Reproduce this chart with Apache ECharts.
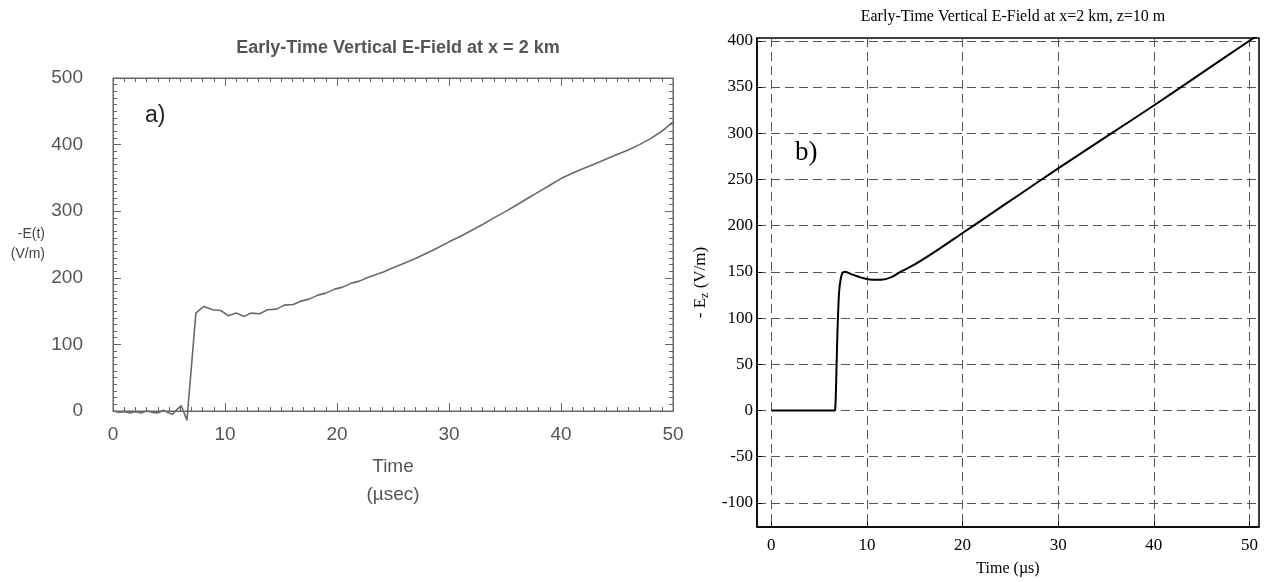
<!DOCTYPE html>
<html>
<head>
<meta charset="utf-8">
<script src="https://cdn.jsdelivr.net/npm/echarts@6/dist/echarts.min.js"></script>
<style>
  html, body { margin: 0; padding: 0; background: #fff; }
  #main { width: 1269px; height: 582px; }
</style>
</head>
<body>
<div id="main"></div>
<script>
// panel a) - computed field, noisy
const leftTime = [0, 0.5, 1, 1.5, 2, 2.5, 3, 3.5, 4, 4.5, 5, 5.3, 5.7, 6.1, 6.6, 7.4, 8.1, 8.9, 9.6, 10.3, 11.0, 11.7, 12.3, 13.1, 13.8, 14.6, 15.3, 16.1, 16.8, 17.5, 18.3, 19.0, 19.8, 20.5, 21.3, 22, 22.7, 23.5, 24.2, 25, 26, 27, 28, 29, 30, 31, 32, 33, 34, 35, 36, 37, 38, 39, 40, 41, 42, 43, 44, 45, 46, 47, 48, 49, 50];
const leftField = [0, -2, -1, -3, -1, -3, 0, -2, -3, 1, -3, -5, 2, 8, -14, 147, 157, 152, 151, 143, 147, 142, 147, 146, 152, 153, 159, 160, 165, 168, 174, 177, 183, 186, 192, 195, 200, 205, 209, 215, 222, 229, 237, 245, 254, 262, 271, 280, 290, 299, 309, 319, 329, 339, 349, 357, 364, 371, 378, 385, 392, 400, 409, 420, 434];

// panel b) - smooth field
const rightTime = [0, 6.6, 6.7, 6.8, 6.9, 7.0, 7.1, 7.25, 7.4, 7.7, 8.5, 9.5, 10.5, 11.5, 12.5, 13.5, 15, 17, 20, 23, 26, 30, 35, 40, 45, 50, 50.9];
const rightField = [0, 0, 5, 40, 80, 110, 130, 142, 148, 150, 147, 143.5, 141.5, 141.5, 144, 150, 158, 171, 192, 213, 234, 262, 296, 330, 365, 400, 406];

const rightXTicks = [0, 10, 20, 30, 40, 50];
const rightYTicks = [-100, -50, 0, 50, 100, 150, 200, 250, 300, 350, 400];

const chart = echarts.init(document.getElementById('main'));

const gray = '#666';
const sans = 'Liberation Sans';
const serif = 'Liberation Serif';

const leftTick = { show: true, inside: true, length: 8, lineStyle: { color: gray } };
const leftMinor = { show: true, splitNumber: 10, length: 4, lineStyle: { color: gray } };
const dash = { color: '#555', type: [9, 5], width: 1 };

chart.setOption({
  animation: false,
  title: [
    {
      text: 'Early-Time Vertical E-Field at x = 2 km',
      left: 393, top: 34, textAlign: 'center',
      textStyle: { fontFamily: sans, fontSize: 18, fontWeight: 'bold', color: '#555' }
    },
    {
      text: 'Early-Time Vertical E-Field at x=2 km, z=10 m',
      left: 1008, top: 4, textAlign: 'center',
      textStyle: { fontFamily: serif, fontSize: 16, fontWeight: 'normal', color: '#000' }
    }
  ],
  grid: [
    { left: 113, right: 596, top: 78, bottom: 171, show: true, borderColor: gray, borderWidth: 1 },
    { left: 757, right: 10, top: 38, bottom: 55, show: true, borderColor: '#000', borderWidth: 1.5 }
  ],
  xAxis: [
    {
      gridIndex: 0, type: 'value', min: 0, max: 50, interval: 10,
      axisLine: { onZero: false, lineStyle: { color: gray } },
      axisTick: leftTick, minorTick: leftMinor,
      splitLine: { show: false },
      axisLabel: { fontFamily: sans, fontSize: 19, color: '#555', margin: 14 },
      name: 'Time\n(\u00b5sec)', nameLocation: 'middle', nameGap: 42,
      nameTextStyle: { fontFamily: sans, fontSize: 19, color: '#555', lineHeight: 28 }
    },
    {
      gridIndex: 0, type: 'value', min: 0, max: 50, interval: 10, position: 'top',
      axisLine: { show: true, onZero: false, lineStyle: { color: gray } },
      axisTick: leftTick, minorTick: leftMinor,
      splitLine: { show: false }, axisLabel: { show: false }
    },
    {
      gridIndex: 1, type: 'value', min: -1.5, max: 51,
      axisLine: { onZero: false, lineStyle: { color: '#000', width: 1.5 } },
      axisTick: { show: true, inside: true, length: 5, customValues: rightXTicks, lineStyle: { color: '#000' } },
      splitLine: { show: true, lineStyle: dash },
      axisLabel: { customValues: rightXTicks, fontFamily: serif, fontSize: 17, color: '#000', margin: 10 },
      name: 'Time (\u00b5s)', nameLocation: 'middle', nameGap: 34,
      nameTextStyle: { fontFamily: serif, fontSize: 16, color: '#000' }
    }
  ],
  yAxis: [
    {
      gridIndex: 0, type: 'value', min: 0, max: 500, interval: 100,
      axisLine: { onZero: false, lineStyle: { color: gray } },
      axisTick: leftTick, minorTick: leftMinor,
      splitLine: { show: false },
      axisLabel: { fontFamily: sans, fontSize: 19, color: '#555', margin: 30 },
      name: '-E(t)\n(V/m)', nameLocation: 'middle', nameRotate: 0, nameGap: 68,
      nameTextStyle: { fontFamily: sans, fontSize: 14, color: '#444', lineHeight: 20 }
    },
    {
      gridIndex: 0, type: 'value', min: 0, max: 500, interval: 100, position: 'right',
      axisLine: { show: true, onZero: false, lineStyle: { color: gray } },
      axisTick: leftTick, minorTick: leftMinor,
      splitLine: { show: false }, axisLabel: { show: false }
    },
    {
      gridIndex: 1, type: 'value', min: -126, max: 403,
      axisLine: { onZero: false, lineStyle: { color: '#000', width: 1.5 } },
      axisTick: { show: true, inside: true, length: 5, customValues: rightYTicks, lineStyle: { color: '#000' } },
      splitLine: { show: true, lineStyle: dash },
      axisLabel: { customValues: rightYTicks, fontFamily: serif, fontSize: 17, color: '#000', margin: 4 },
      name: '- E{sub|z} (V/m)', nameLocation: 'middle', nameGap: 46,
      nameTextStyle: {
        fontFamily: serif, fontSize: 17, color: '#000',
        rich: { sub: { fontFamily: serif, fontSize: 12, color: '#000', padding: [8, 0, 0, 0] } }
      }
    }
  ],
  graphic: [
    { type: 'text', left: 145, top: 104, style: { text: 'a)', fontFamily: sans, fontSize: 23, fill: '#222' } },
    { type: 'text', left: 795, top: 139, style: { text: 'b)', fontFamily: serif, fontSize: 27, fill: '#000' } }
  ],
  series: [
    {
      type: 'line', xAxisIndex: 0, yAxisIndex: 0, clip: false,
      data: leftTime.map((t, i) => [t, leftField[i]]),
      showSymbol: false, lineStyle: { color: '#6a6a6a', width: 1.6 }
    },
    {
      type: 'line', xAxisIndex: 2, yAxisIndex: 2,
      data: rightTime.map((t, i) => [t, rightField[i]]),
      showSymbol: false, smooth: 0.3, lineStyle: { color: '#000', width: 2 }
    }
  ]
});
</script>
</body>
</html>
